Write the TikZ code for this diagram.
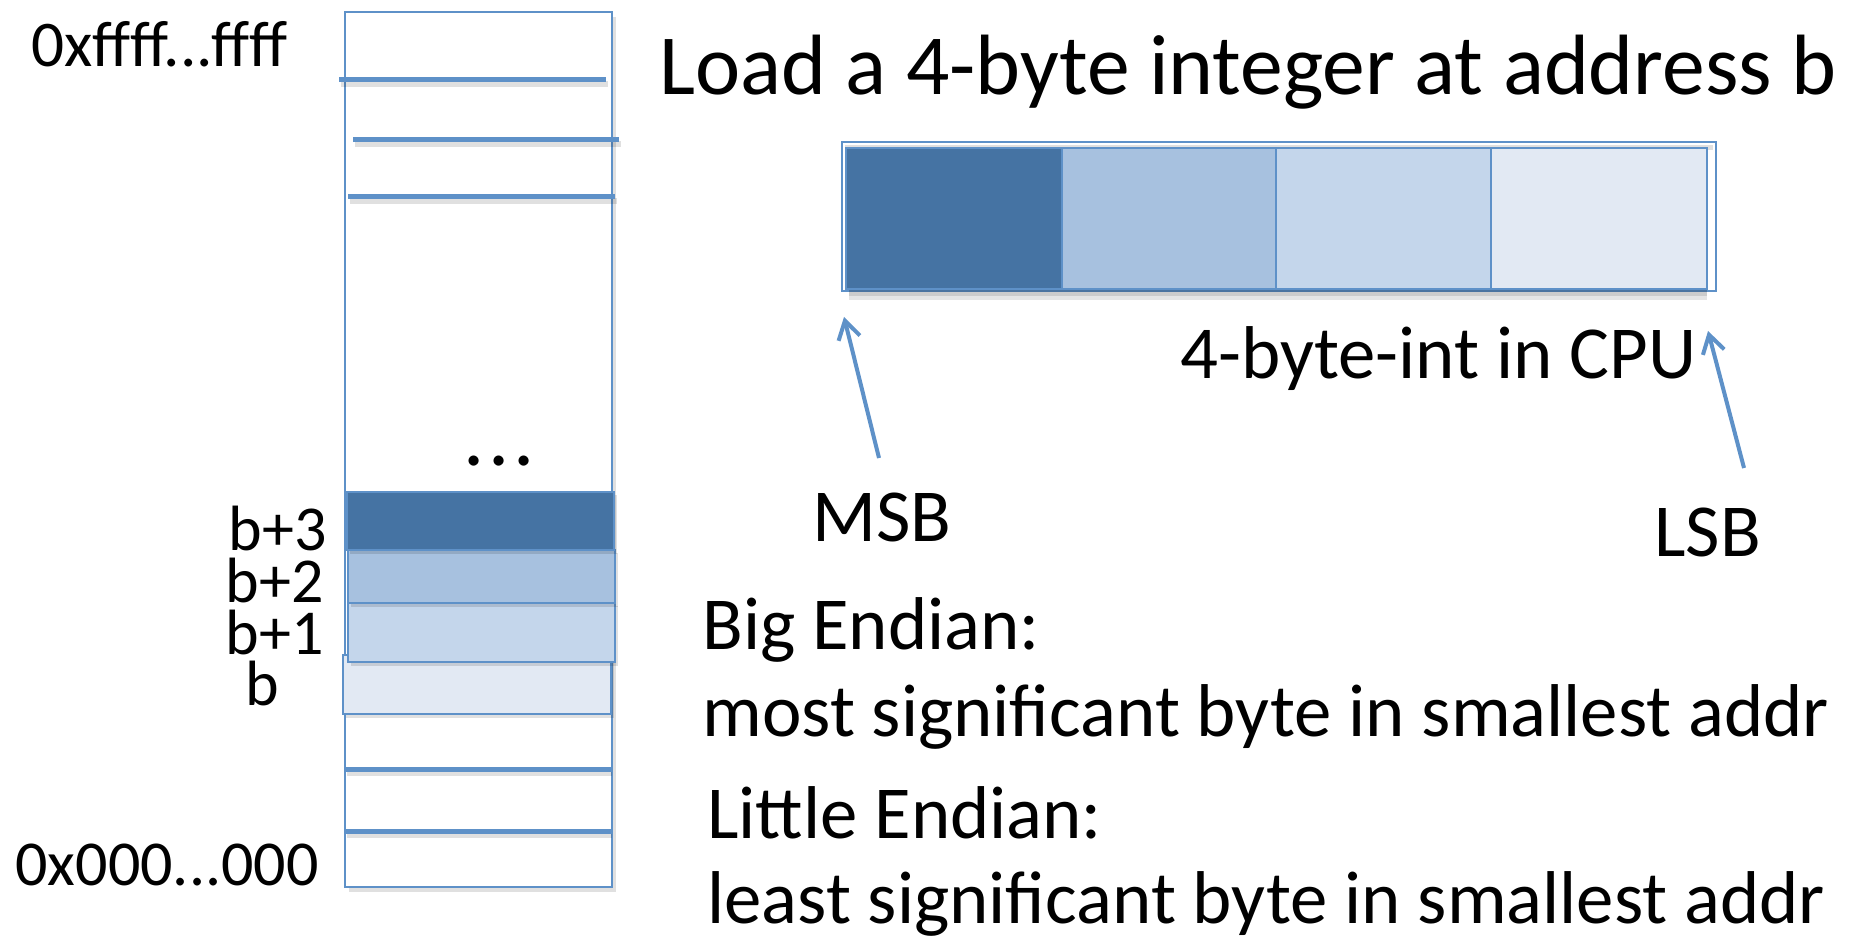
\documentclass[tikz,border=0pt]{standalone}
\usepackage{fontspec}
\setmainfont{Carlito}
\usetikzlibrary{arrows.meta}
\definecolor{edge}{HTML}{5E91C8}
\definecolor{bA}{HTML}{4573A3}
\definecolor{bB}{HTML}{A7C1DF}
\definecolor{bC}{HTML}{C4D6EB}
\definecolor{bD}{HTML}{E2E9F3}
\begin{document}
\begin{tikzpicture}[x=0.5pt,y=-0.5pt,
  box/.style={draw=edge, line width=1.2pt},
  sep/.style={draw=edge, line width=2.5pt},
  shd/.style={draw=black, opacity=0.12, line width=3pt},
  shdbox/.style={fill=black, opacity=0.12},
  lbl/.style={inner sep=0pt, font=\fontsize{32}{38}\selectfont},
  txt/.style={anchor=base west, inner sep=0pt, font=\fontsize{37.4}{44}\selectfont},
  ttl/.style={anchor=base west, inner sep=0pt, font=\fontsize{42.8}{50}\selectfont},
  arr/.style={draw=edge, line width=2pt, -{Straight Barb[length=9pt,width=11pt]}}
]
\useasboundingbox (0,0) rectangle (1856,940);
\fill[white] (0,0) rectangle (1856,940);

% memory column
\fill[shdbox] (349,17) rectangle (616,892);
\draw[box, fill=white] (345,12) rectangle (612,887);
\draw[shd] (341,84) -- (608,84);
\draw[sep] (339,80) -- (606,80);
\draw[shd] (355,144) -- (621,144);
\draw[sep] (353,140) -- (619,140);
\draw[shd] (350,201) -- (617,201);
\draw[sep] (348,197) -- (615,197);
\draw[shd] (347,773) -- (612,773);
\draw[sep] (345,769) -- (612,769);
\draw[shd] (347,835) -- (612,835);
\draw[sep] (345,831) -- (612,831);

\fill[shdbox] (346,658) rectangle (614,718);
\draw[box, fill=bD] (343,655) rectangle (611,714);
\fill[shdbox] (351,606) rectangle (618,666);
\draw[box, fill=bC] (348,603) rectangle (615,662);
\fill[shdbox] (351,553) rectangle (618,607);
\draw[box, fill=bB] (348,550) rectangle (615,603);
\fill[shdbox] (350,495) rectangle (617,554);
\draw[box, fill=bA] (347,492) rectangle (614,550);

\node[inner sep=0pt, anchor=base, font=\fontsize{42}{48}\selectfont] (dots) at (499,466) {.\kern2pt.\kern2pt.};
\node[lbl, anchor=base west, font=\fontsize{32.6}{38}\selectfont] (top) at (31,67) {0xffff...ffff};
\node[lbl, anchor=base west] (bot) at (15,885) {0x000...000};
\node[lbl, anchor=base east] (b3) at (327,550) {b+3};
\node[lbl, anchor=base east] (b2) at (324,602) {b+2};
\node[lbl, anchor=base east] (b1) at (324,654) {b+1};
\node[lbl, anchor=base west] (b0) at (245,705) {b};

% CPU register
\node[ttl] (title) at (659,95) {Load a 4-byte integer at address b};
\draw[box, fill=white] (842,142) rectangle (1716,291);
\fill[black!12] (845,145) rectangle (1713,150);
\fill[black, opacity=0.2] (849,289) rectangle (1707,296);
\fill[black, opacity=0.1] (849,296) rectangle (1707,300);
\draw[box, fill=bA] (846,148) rectangle (1062,289);
\draw[box, fill=bB] (1062,148) rectangle (1276,289);
\draw[box, fill=bC] (1276,148) rectangle (1491,289);
\draw[box, fill=bD] (1491,148) rectangle (1707,289);
\coordinate (msbtip) at (844,317);
\coordinate (lsbtip) at (1708,331);
\node[txt] (cpu) at (1180,379) {4-byte-int in CPU};
\node[txt] (msb) at (812,541) {MSB};
\node[txt] (lsb) at (1654,556) {LSB};
\coordinate (msbtail) at (879,458);
\coordinate (lsbtail) at (1744,468);
\draw[arr] (msbtail) -- (msbtip);
\draw[arr] (lsbtail) -- (lsbtip);

\node[txt] (big) at (702,649) {Big Endian:};
\node[txt] (bigd) at (702,736) {most significant byte in smallest addr};
\node[txt] (lit) at (707,838) {Little Endian:};
\node[txt] (litd) at (707,923) {least significant byte in smallest addr};
\end{tikzpicture}
\end{document}
